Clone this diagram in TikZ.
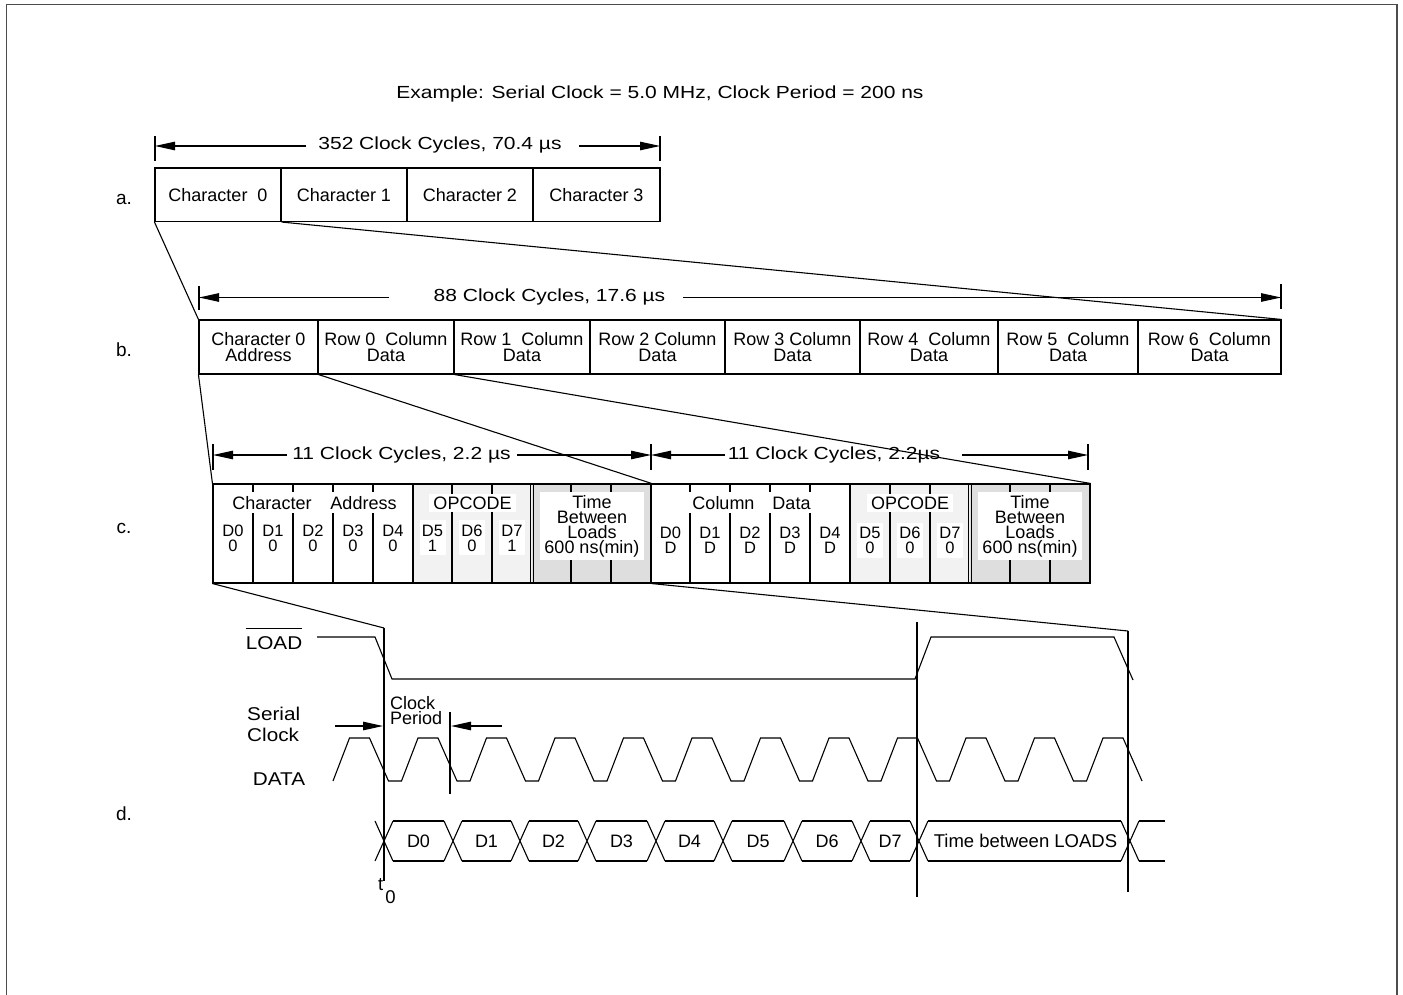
\documentclass[tikz,border=0pt]{standalone}
\usepackage{fontspec}
\setmainfont{Liberation Sans}
\usepackage{graphicx}
\usetikzlibrary{arrows.meta}
\newcommand{\stretchtext}[1]{\scalebox{1.2}[1]{#1}}
\newcommand{\sigtext}[1]{\scalebox{1.12}[1]{#1}}
\tikzset{
  ln/.style={line width=1.1pt},
  cellA/.style={draw, line width=1.1pt, inner sep=0pt, minimum height=53.5pt, font=\fontsize{18}{16}\selectfont},
  cellB/.style={draw, line width=1.1pt, inner sep=0pt, minimum height=54pt, align=center, font=\fontsize{18}{15.5}\selectfont},
  grp/.style={draw, line width=1.1pt, inner sep=0pt, minimum height=99pt},
  dimtxt/.style={inner sep=0pt, font=\fontsize{17.5}{17.5}\selectfont},
  dimarrow/.style={line width=1.1pt, -{Triangle[length=20pt,width=8.5pt]}},
  hdr/.style={inner sep=0pt, font=\fontsize{18}{15}\selectfont},
  whitebox/.style={fill=white, inner xsep=4pt, inner ysep=3pt},
  dval/.style={inner sep=0pt, anchor=base, font=\fontsize{16.5}{14}\selectfont},
  lbl/.style={inner sep=0pt, anchor=base, font=\fontsize{19}{19}\selectfont},
  sig/.style={inner sep=0pt, font=\fontsize{18.5}{16}\selectfont},
  wire/.style={line width=1.1pt, line join=miter},
  busl/.style={inner sep=0pt, font=\fontsize{18}{18}\selectfont},
}
\begin{document}
\begin{tikzpicture}[x=1pt,y=-1pt]
\useasboundingbox (0,0) rectangle (1403,995);
% frame
\draw[line width=1.6pt, black!70] (6.5,995) -- (6.5,4.5) -- (1397,4.5) -- (1397,995);

% title
\node[dimtxt] (title) at (660,93.5) {\stretchtext{Example: Serial Clock = 5.0 MHz, Clock Period = 200 ns}};

% labels
\node[lbl] (la) at (124,205) {a.};
\node[lbl] (lb) at (124,356) {b.};
\node[lbl] (lc) at (124,533) {c.};
\node[lbl] (ld) at (124,820) {d.};

% ---------- row a ----------
\node[cellA, minimum width=126pt] (a0) at (218,194.75) {Character~~0};
\node[cellA, minimum width=126pt] (a1) at (344,194.75) {Character 1};
\node[cellA, minimum width=126pt] (a2) at (470,194.75) {Character 2};
\node[cellA, minimum width=127pt] (a3) at (596.5,194.75) {Character 3};
\draw[ln] (155,136) -- (155,161) (660,136) -- (660,161);
\draw[dimarrow] (306,146) -- (155,146);
\draw[dimarrow] (579,146) -- (660,146);
\node[dimtxt] (dima) at (440,145) {\stretchtext{352 Clock Cycles, 70.4 µs}};

% ---------- row b ----------
\node[cellB, minimum width=119pt] (b0) at (258.5,347) {Character 0\\Address};
\node[cellB, minimum width=136pt] (b1) at (386,347) {Row 0~~Column\\Data};
\node[cellB, minimum width=136pt] (b2) at (522,347) {Row 1~~Column\\Data};
\node[cellB, minimum width=135pt] (b3) at (657.5,347) {Row 2 Column\\Data};
\node[cellB, minimum width=135pt] (b4) at (792.5,347) {Row 3 Column\\Data};
\node[cellB, minimum width=138pt] (b5) at (929,347) {Row 4~~Column\\Data};
\node[cellB, minimum width=140pt] (b6) at (1068,347) {Row 5~~Column\\Data};
\node[cellB, minimum width=143pt] (b7) at (1209.5,347) {Row 6~~Column\\Data};
\draw[ln] (199,286) -- (199,310) (1281,284) -- (1281,309);
\draw[dimarrow] (389,297.5) -- (199,297.5);
\draw[dimarrow] (683,297.5) -- (1281,297.5);
\node[dimtxt] (dimb) at (549.5,297) {\stretchtext{88 Clock Cycles, 17.6 µs}};

\draw[ln] (a0.south west) -- (b0.north west);
\draw[ln] (a0.south east) -- (b7.north east);

% ---------- row c ----------
\fill[black!5] (413,484) rectangle (532,583);
\fill[black!13] (532,484) rectangle (651,583);
\fill[black!5] (850,484) rectangle (970,583);
\fill[black!13] (970,484) rectangle (1090,583);
\foreach \x in {253,293,333,373,690,730,770,810}
  \draw[ln] (\x,484) -- (\x,492) (\x,513) -- (\x,583);
\foreach \x in {413,452,492,571,611,850,890,930,1010,1050}
  \draw[ln] (\x,484) -- (\x,583);
\foreach \x in {530.5,533.5,968.5,971.5}
  \draw[ln] (\x,484) -- (\x,583);
% white patches behind the opcode bit texts
\foreach \x/\y in {432.5/0,472/0,512/0,870/2.5,910/2.5,950/2.5}
  \fill[white] ({\x-13},{520+\y}) rectangle ({\x+13},{555+\y});
\node[grp, minimum width=438pt] (cg1) at (432,533.5) {};
\node[grp, minimum width=439pt] (cg2) at (870.5,533.5) {};

\node[hdr] (chr) at (272,503) {Character};
\node[hdr] (adr) at (363.5,503) {Address};
\node[hdr, whitebox] (op1) at (472.5,503) {OPCODE};
\node[hdr, whitebox, align=center] (tb1) at (592,526) {Time\\Between\\Loads\\600 ns(min)};
\node[hdr] (col) at (723.5,503) {Column};
\node[hdr] (dat) at (791.5,503) {Data};
\node[hdr, whitebox] (op2) at (910,503) {OPCODE};
\node[hdr, whitebox, align=center] (tb2) at (1030,526) {Time\\Between\\Loads\\600 ns(min)};

% bit names and values
\foreach \x/\n/\v [count=\k from 0] in {233/D0/0,273/D1/0,313/D2/0,353/D3/0,393/D4/0,432.5/D5/1,472/D6/0,512/D7/1}{
  \node[dval] (cn\k) at (\x,536) {\n};
  \node[dval] (cv\k) at (\x,551) {\v};
}
\foreach \x/\n/\v [count=\k from 0] in {670.5/D0/D,710/D1/D,750/D2/D,790/D3/D,830/D4/D,870/D5/0,910/D6/0,950/D7/0}{
  \node[dval] (en\k) at (\x,538.5) {\n};
  \node[dval] (ev\k) at (\x,553.5) {\v};
}

\draw[ln] (213,444) -- (213,470) (651,444) -- (651,470) (1088,444) -- (1088,470);
\draw[dimarrow] (287,455) -- (213,455);
\draw[dimarrow] (517,455) -- (651,455);
\draw[dimarrow] (725,455) -- (651,455);
\draw[dimarrow] (962,455) -- (1088,455);
\node[dimtxt] (dimc1) at (401.5,455) {\stretchtext{11 Clock Cycles, 2.2 µs}};
\node[dimtxt] (dimc2) at (834,455) {\stretchtext{11 Clock Cycles, 2.2µs}};

\draw[ln] (b0.south west) -- (cg1.north west);
\draw[ln] (b0.south east) -- (cg1.north east);
\draw[ln] (b1.south east) -- (cg2.north east);

% ---------- row d ----------
\coordinate (t0top) at (384,628);
\coordinate (t0bot) at (384,881);
\coordinate (v2top) at (917,622);
\coordinate (v2bot) at (917,897);
\coordinate (v3top) at (1128,631);
\coordinate (v3bot) at (1128,892);
\coordinate (cpt) at (450,712);
\coordinate (cpb) at (450,794);
\draw[ln] (cg1.south west) -- (t0top);
\draw[ln] (cg1.south east) -- (v3top);
\draw[ln] (t0top) -- (t0bot);
\draw[ln] (v2top) -- (v2bot);
\draw[ln] (v3top) -- (v3bot);
\draw[ln] (cpt) -- (cpb);

\node[sig] (load) at (274,643) {\sigtext{LOAD}};
\draw[ln] ([yshift=8pt]load.north west) -- ([yshift=8pt]load.north east);
\draw[wire] (317,637) -- (375,637) -- (392,679) -- (915,679) -- (931,637) -- (1114,637) -- (1133,680);

\node[sig, align=left, anchor=west, font=\fontsize{18.5}{21}\selectfont] (sclk) at (247,724.5) {\sigtext{Serial}\\\sigtext{Clock}};
\node[sig] (data) at (279,779) {\sigtext{DATA}};
\node[sig, align=left, anchor=west, font=\fontsize{18}{15}\selectfont] (cper) at (390,711) {Clock\\Period};
\draw[dimarrow] (335,726) -- (383,726);
\draw[dimarrow] (502,726) -- (451,726);

% clock waveform
\draw[wire] (333,781)
  \foreach \i in {0,...,10} { -- ({333+68.5*\i+16.5},738) -- ({333+68.5*\i+36.5},738) -- ({333+68.5*\i+55.5},781) -- ({333+68.5*\i+68.5},781) }
  -- ({333+68.5*11+16.5},738) -- ({333+68.5*11+36.5},738) -- ({333+68.5*11+55.5},781);

% data bus
\foreach \c in {384,453,520,587,656,723,793,861,919,1130}
  \draw[wire] ({\c-9},821) -- ({\c+9},861) ({\c-9},861) -- ({\c+9},821);
\foreach \a/\b in {384/453,453/520,520/587,587/656,656/723,723/793,793/861,861/919,919/1130}
  \draw[wire] ({\a+9},821) -- ({\b-9},821) ({\a+9},861) -- ({\b-9},861);
\draw[wire] (1139,821) -- (1165,821) (1139,861) -- (1165,861);
\node[busl] (bd0) at (418.5,841) {D0};
\node[busl] (bd1) at (486.5,841) {D1};
\node[busl] (bd2) at (553.5,841) {D2};
\node[busl] (bd3) at (621.5,841) {D3};
\node[busl] (bd4) at (689.5,841) {D4};
\node[busl] (bd5) at (758,841) {D5};
\node[busl] (bd6) at (827,841) {D6};
\node[busl] (bd7) at (890,841) {D7};
\node[busl, font=\fontsize{18.5}{18.5}\selectfont] (btl) at (1025.5,841) {Time between LOADS};

\node[sig, anchor=base west] (t0) at (378,890) {t\kern2pt\raisebox{-13pt}{0}};
\end{tikzpicture}
\end{document}
